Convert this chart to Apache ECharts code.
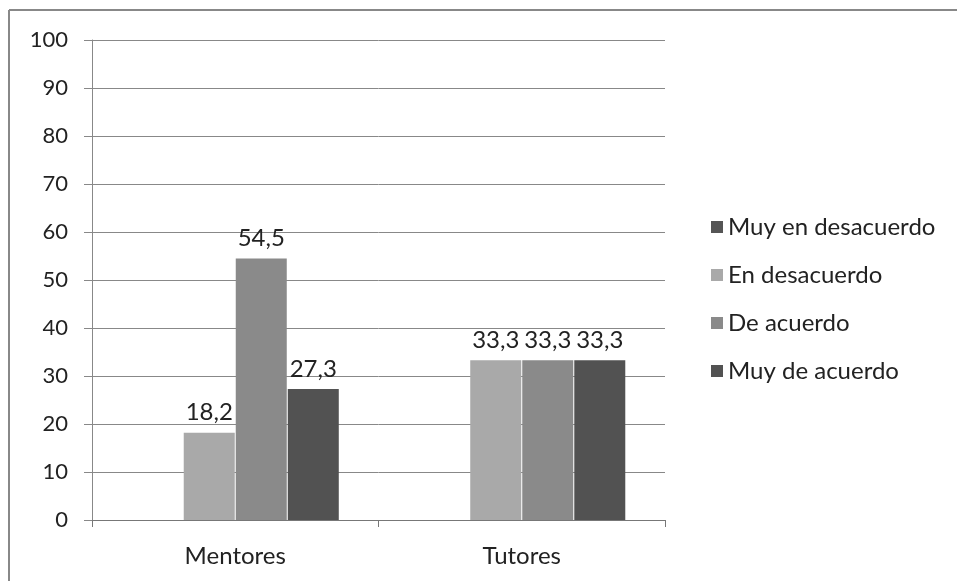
<!DOCTYPE html>
<html>
<head>
<meta charset="utf-8">
<script src="https://cdn.jsdelivr.net/npm/echarts@6/dist/echarts.min.js"></script>
<style>
html,body{margin:0;padding:0;background:#fff;}
#c{width:957px;height:581px;}
</style>
</head>
<body>
<div id="c"></div>
<script>
var categories = ['Mentores', 'Tutores'];
var seriesNames = ['Muy en desacuerdo', 'En desacuerdo', 'De acuerdo', 'Muy de acuerdo'];
var muyEnDesacuerdo = [0, 0];
var enDesacuerdo = [18.2, 33.3];
var deAcuerdo = [54.5, 33.3];
var muyDeAcuerdo = [27.3, 33.3];
var yTicks = [0, 10, 20, 30, 40, 50, 60, 70, 80, 90, 100];

var colors = ['#555555', '#a9a9a9', '#8a8a8a', '#525252'];
var values = [muyEnDesacuerdo, enDesacuerdo, deAcuerdo, muyDeAcuerdo];
var FONT = 'Lato';

var chart = echarts.init(document.getElementById('c'));
var series = seriesNames.map(function (n, i) {
  return {
    name: n,
    type: 'bar',
    data: values[i],
    barWidth: 51,
    barGap: '2%',
    itemStyle: { color: colors[i] },
    label: {
      show: true,
      position: 'top',
      distance: 8,
      color: '#222',
      fontFamily: FONT,
      fontSize: 24,
      formatter: function (p) {
        return p.value ? String(p.value).replace('.', ',') : '';
      }
    }
  };
});

chart.setOption({
  animation: false,
  backgroundColor: '#fff',
  color: colors,
  graphic: [
    { type: 'line', shape: { x1: 9, y1: 10, x2: 957, y2: 10 }, style: { stroke: '#888', lineWidth: 2 } },
    { type: 'line', shape: { x1: 9, y1: 10, x2: 9, y2: 581 }, style: { stroke: '#888', lineWidth: 2 } }
  ],
  grid: { left: 92, right: 292, top: 40, bottom: 61 },
  legend: {
    orient: 'vertical',
    left: 706,
    top: 210,
    itemWidth: 12,
    itemHeight: 12,
    itemGap: 24,
    icon: 'rect',
    textStyle: { fontFamily: FONT, fontSize: 24, color: '#222' },
    data: seriesNames
  },
  xAxis: {
    type: 'category',
    data: categories,
    axisLine: { lineStyle: { color: '#777' } },
    axisTick: { show: true, length: 7, lineStyle: { color: '#777' } },
    axisLabel: { fontFamily: FONT, fontSize: 24, color: '#222', margin: 24 }
  },
  yAxis: {
    type: 'value',
    min: 0,
    max: 100,
    interval: 10,
    axisLine: { show: true, lineStyle: { color: '#888' } },
    axisTick: { show: true, length: 8, lineStyle: { color: '#888' } },
    splitLine: { lineStyle: { color: '#888' } },
    axisLabel: {
      fontFamily: FONT, fontSize: 22, color: '#222', margin: 24,
      formatter: function (v) { return yTicks.indexOf(v) >= 0 ? String(v) : ''; }
    }
  },
  series: series
});
</script>
</body>
</html>
